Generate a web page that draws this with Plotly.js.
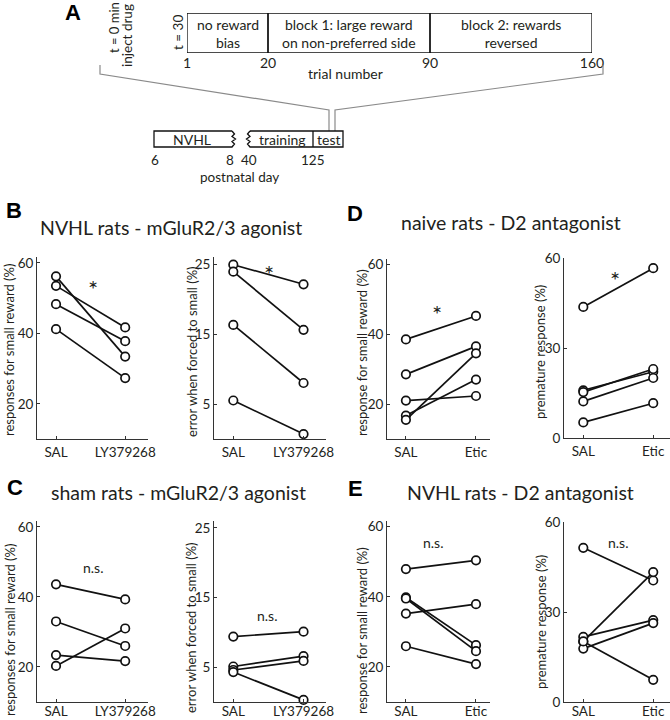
<!DOCTYPE html>
<html><head><meta charset="utf-8">
<script src="https://cdn.plot.ly/plotly-3.0.1.min.js"></script>
<style>html,body{margin:0;padding:0;background:#fff}#chart{width:670px;height:720px}</style>
</head><body><div id="chart"></div>
<script>
// ---------- data ----------
const condsLY = ['SAL', 'LY379268'];
const condsEtic = ['SAL', 'Etic'];

const B_left_SAL  = [56.2, 53.5, 48.3, 41.2];
const B_left_LY   = [33.4, 41.7, 37.8, 27.3];
const B_right_SAL = [24.9, 23.9, 16.3, 5.5];
const B_right_LY  = [22.1, 15.6, 8.0, 0.7];

const C_left_SAL  = [43.6, 33.0, 23.4, 20.3];
const C_left_LY   = [39.3, 26.0, 21.7, 31.0];
const C_right_SAL = [9.4, 5.1, 4.6, 4.3];
const C_right_LY  = [10.1, 6.6, 5.9, 0.3];

const D_left_SAL   = [38.5, 28.5, 21.0, 16.7, 15.5];
const D_left_Etic  = [45.2, 36.5, 22.3, 27.0, 34.5];
const D_right_SAL  = [43.7, 15.9, 15.3, 12.2, 5.2];
const D_right_Etic = [56.6, 22.1, 23.0, 20.0, 11.6];

const E_left_SAL   = [47.9, 35.2, 39.8, 39.5, 25.9];
const E_left_Etic  = [50.4, 37.9, 26.2, 24.5, 20.8];
const E_right_SAL  = [51.4, 20.2, 21.7, 17.8, 20.2];
const E_right_Etic = [40.5, 43.3, 27.3, 26.3, 7.4];

const ticksReward = [20, 40, 60];
const ticksError = [5, 15, 25];
const ticksPremature = [0, 30, 60];

const trialLabels = ['1', '20', '90', '160'];
const blockLabels = ['no reward<br>bias', 'block 1: large reward<br>on non-preferred side', 'block 2: rewards<br>reversed'];
const dayLabels = ['6', '8', '40', '125'];
const phaseLabels = ['NVHL', 'training', 'test'];

// ---------- layout helpers ----------
const W = 670, H = 720;
const px = x => x / W;
const py = y => 1 - y / H;
const FONT = 'Lato, "Open Sans", sans-serif';
const TXT = '#231f20';

const panels = [
  {x0:37,  x1:148, y0:257, y1:439, yr:[10,61.7], tv:ticksReward,    xr:[-0.275,1.33], cats:condsLY,   a:B_left_SAL,  b:B_left_LY,  so:1},
  {x0:214, x1:326, y0:257, y1:439, yr:[0,26],    tv:ticksError,     xr:[-0.275,1.32], cats:condsLY,   a:B_right_SAL, b:B_right_LY, so:1},
  {x0:37,  x1:148, y0:521, y1:702, yr:[10,61.7], tv:ticksReward,    xr:[-0.275,1.33], cats:condsLY,   a:C_left_SAL,  b:C_left_LY,  so:-3},
  {x0:214, x1:326, y0:521, y1:702, yr:[0,26],    tv:ticksError,     xr:[-0.275,1.32], cats:condsLY,   a:C_right_SAL, b:C_right_LY, so:-3},
  {x0:387, x1:490, y0:259, y1:439, yr:[10,61.5], tv:ticksReward,    xr:[-0.27,1.2],   cats:condsEtic, a:D_left_SAL,  b:D_left_Etic, so:1},
  {x0:564, x1:670, y0:258, y1:438, yr:[0,60],    tv:ticksPremature, xr:[-0.276,1.24], cats:condsEtic, a:D_right_SAL, b:D_right_Etic, so:1},
  {x0:387, x1:490, y0:521, y1:702, yr:[10,61.6], tv:ticksReward,    xr:[-0.27,1.2],   cats:condsEtic, a:E_left_SAL,  b:E_left_Etic, so:-3},
  {x0:564, x1:670, y0:522, y1:702, yr:[0,60],    tv:ticksPremature, xr:[-0.276,1.24], cats:condsEtic, a:E_right_SAL, b:E_right_Etic, so:-3}
];

const data = [];
const layout = {
  width: W, height: H, margin: {l:0, r:0, t:0, b:0},
  paper_bgcolor: '#fff', plot_bgcolor: 'rgba(0,0,0,0)',
  showlegend: false, font: {family: FONT, color: TXT, size: 13},
  annotations: [], shapes: []
};

panels.forEach((p, i) => {
  const n = i + 1;
  const xa = 'xaxis' + (n === 1 ? '' : n), ya = 'yaxis' + (n === 1 ? '' : n);
  const xr = 'x' + (n === 1 ? '' : n), yr = 'y' + (n === 1 ? '' : n);
  layout[xa] = {
    domain: [px(p.x0), px(p.x1)], anchor: yr, type: 'category',
    categoryorder: 'array', categoryarray: p.cats, range: p.xr,
    showline: true, linecolor: '#333', linewidth: 1, mirror: false,
    ticks: 'inside', ticklen: 3, tickcolor: '#333', showgrid: false, zeroline: false,
    tickfont: {size: 13.5, family: FONT, color: TXT}, ticklabelstandoff: p.so, fixedrange: true
  };
  layout[ya] = {
    domain: [py(p.y1), py(p.y0)], anchor: xr, range: p.yr,
    tickvals: p.tv, ticktext: p.tv.map(String),
    showline: true, linecolor: '#333', linewidth: 1, mirror: false,
    ticks: 'inside', ticklen: 3, tickcolor: '#333', showgrid: false, zeroline: false,
    tickfont: {size: 13.5, family: FONT, color: TXT}, ticklabelstandoff: 0, fixedrange: true
  };
  p.a.forEach((v, k) => {
    data.push({
      x: p.cats, y: [v, p.b[k]], xaxis: xr, yaxis: yr,
      mode: 'lines+markers', type: 'scatter', hoverinfo: 'skip',
      line: {color: '#111', width: 1.7},
      marker: {symbol: 'circle', size: 8.5, color: '#fff', line: {color: '#111', width: 1.7}},
      cliponaxis: false
    });
  });
});

function ann(x, y, text, opt) {
  layout.annotations.push(Object.assign({
    xref: 'paper', yref: 'paper', x: px(x), y: py(y), text: text, showarrow: false,
    xanchor: 'center', yanchor: 'middle', font: {family: FONT, size: 13, color: TXT}
  }, opt || {}));
}

// panel letters
const letterFont = {family: '"Liberation Sans", Arial, sans-serif', size: 22, color: '#000', weight: 'bold'};
[['A',73,12],['B',14,210],['C',15,487],['D',355,213],['E',355,488]].forEach(l =>
  ann(l[1], l[2], '<b>' + l[0] + '</b>', {font: letterFont}));

// panel titles
const titleFont = {family: FONT, size: 19.5, color: TXT};
ann(171, 227, 'NVHL rats - mGluR2/3 agonist', {font: titleFont});
ann(178, 492, 'sham rats - mGluR2/3 agonist', {font: titleFont});
ann(511, 222, 'naive rats - D2 antagonist', {font: titleFont});
ann(520, 492, 'NVHL rats - D2 antagonist', {font: titleFont});

// y axis titles
const yt = (x, y, t) => ann(x, y, t, {textangle: -90, font: {family: FONT, size: 13, color: TXT}});
yt(9, 350, 'responses for small reward (%)');
yt(192, 352, 'error when forced to small (%)');
yt(10, 630, 'responses for small reward (%)');
yt(191, 628, 'error when forced to small (%)');
yt(362, 353, 'response for small reward (%)');
yt(540, 352, 'premature response (%)');
yt(362, 631, 'response for small reward (%)');
yt(541, 622, 'premature response (%)');

// significance marks
const starFont = {family: FONT, size: 24, color: TXT};
ann(93, 288, '*', {font: starFont});
ann(269, 273, '*', {font: starFont});
ann(437, 313, '*', {font: starFont});
ann(615, 280, '*', {font: starFont});
ann(93, 567, 'n.s.', {font: {family: FONT, size: 14, color: TXT}});
ann(267, 615, 'n.s.', {font: {family: FONT, size: 14, color: TXT}});
ann(433, 542, 'n.s.', {font: {family: FONT, size: 14, color: TXT}});
ann(618, 542, 'n.s.', {font: {family: FONT, size: 14, color: TXT}});

// ---------- panel A: trial schematic (axis x9 / y9) ----------
const blockEdges = [0, 1, 3, 5];
layout.xaxis9 = {
  domain: [px(187), px(592)], range: [0, 5], anchor: 'y9',
  tickvals: blockEdges, ticktext: trialLabels, ticks: '', showline: false,
  showgrid: false, zeroline: false, tickfont: {size: 14, family: FONT, color: TXT},
  ticklabelstandoff: 0, fixedrange: true
};
layout.yaxis9 = {domain: [py(53), py(13)], range: [0, 1], anchor: 'x9', visible: false, fixedrange: true};
blockLabels.forEach((t, k) => {
  layout.shapes.push({type: 'rect', xref: 'x9', yref: 'y9', x0: blockEdges[k], x1: blockEdges[k+1], y0: 0, y1: 1,
    line: {color: '#111', width: 1.3}});
  layout.annotations.push({xref: 'x9', yref: 'y9', x: (blockEdges[k] + blockEdges[k+1]) / 2, y: 0.5, text: t,
    showarrow: false, font: {family: FONT, size: 14, color: TXT}});
});
ann(345, 74, 'trial number', {font: {family: FONT, size: 14, color: TXT}});
ann(178, 33, 't = 30', {textangle: -90, font: {family: FONT, size: 13.5, color: TXT}});
ann(114, 28, 't = 0 min', {textangle: -90, font: {family: FONT, size: 13, color: TXT}});
ann(127, 35, 'inject drug', {textangle: -90, font: {family: FONT, size: 13.5, color: TXT}});

// bracket lines
const P = (x, y) => px(x) + ',' + py(y);
const gray = {color: '#8a8a8a', width: 1.2};
layout.shapes.push({type: 'path', xref: 'paper', yref: 'paper', line: gray,
  path: 'M' + P(100,65) + ' L' + P(100,74) + ' L' + P(329,110) + ' L' + P(329,131)});
layout.shapes.push({type: 'path', xref: 'paper', yref: 'paper', line: gray,
  path: 'M' + P(603,65) + ' L' + P(603,74) + ' L' + P(335,110) + ' L' + P(335,131)});

// timeline boxes
const blk = {color: '#111', width: 1.3};
layout.shapes.push({type: 'path', xref: 'paper', yref: 'paper', line: blk,
  path: 'M' + P(232,131) + ' L' + P(154,131) + ' L' + P(154,147) + ' L' + P(232,147) +
        ' L' + P(234.5,144) + ' L' + P(232,141.5) + ' L' + P(235.5,139) + ' L' + P(232,136.5) + ' L' + P(234.5,134) + ' L' + P(232,131)});
layout.shapes.push({type: 'path', xref: 'paper', yref: 'paper', line: blk,
  path: 'M' + P(250,131) + ' L' + P(343,131) + ' L' + P(343,147) + ' L' + P(250,147) +
        ' L' + P(247.5,144) + ' L' + P(250,141.5) + ' L' + P(246.5,139) + ' L' + P(250,136.5) + ' L' + P(247.5,134) + ' L' + P(250,131)});
layout.shapes.push({type: 'line', xref: 'paper', yref: 'paper', line: blk,
  x0: px(313), x1: px(313), y0: py(131), y1: py(147)});
const phaseX = [192, 282, 328];
phaseLabels.forEach((t, k) => ann(phaseX[k], 139.5, t, {font: {family: FONT, size: 14, color: TXT}}));
const dayX = [155, 230, 249, 313];
dayLabels.forEach((t, k) => ann(dayX[k], 160, t, {font: {family: FONT, size: 13.5, color: TXT}}));
ann(239, 177, 'postnatal day', {font: {family: FONT, size: 13.5, color: TXT}});

Plotly.newPlot('chart', data, layout, {staticPlot: true, displayModeBar: false});
</script></body></html>
